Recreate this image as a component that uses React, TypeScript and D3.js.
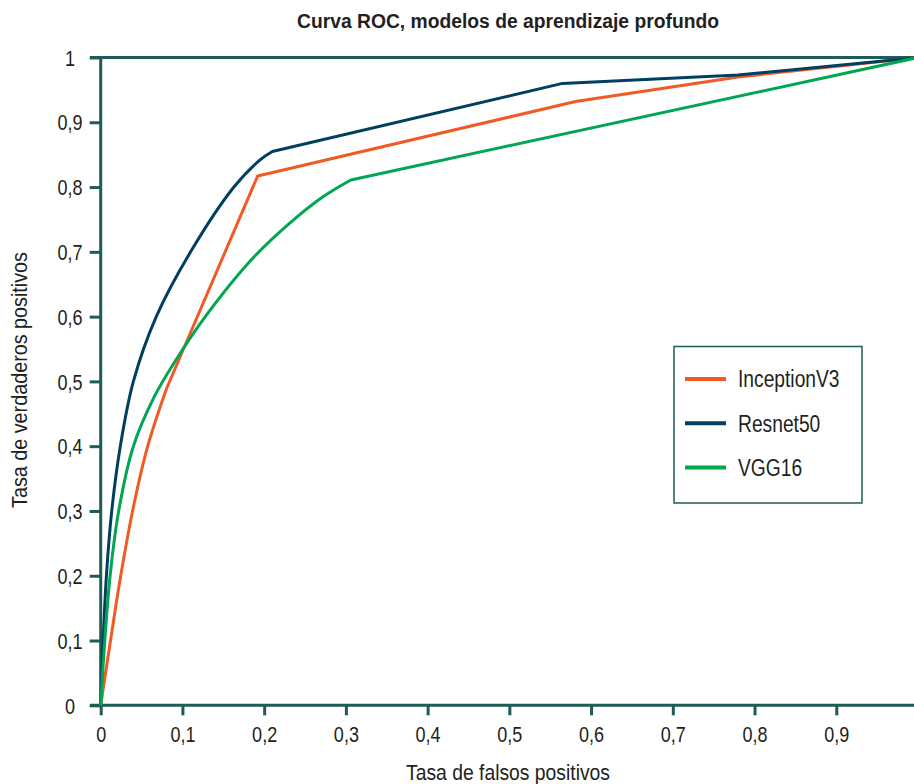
import React, { useEffect, useRef } from 'react';
import * as d3 from 'd3';

// ROC points: [false positive rate, true positive rate]
const inceptionV3: [number, number][] = [
  [0, 0], [0.012, 0.1], [0.0245, 0.2], [0.039, 0.3], [0.0575, 0.4], [0.0806, 0.489],
  [0.192, 0.817], [0.581, 0.932], [0.78, 0.97], [1, 1],
];
const resnet50: [number, number][] = [
  [0, 0], [0.003, 0.1], [0.007, 0.2], [0.0135, 0.3], [0.024, 0.4], [0.04, 0.5],
  [0.068, 0.6], [0.11, 0.7], [0.163, 0.8], [0.195, 0.842], [0.21, 0.855],
  [0.565, 0.96], [0.78, 0.973], [1, 1],
];
const vgg16: [number, number][] = [
  [0, 0], [0.005, 0.1], [0.0115, 0.2], [0.022, 0.3], [0.04, 0.4], [0.065, 0.475],
  [0.092, 0.533], [0.128, 0.6], [0.186, 0.69], [0.231, 0.744], [0.272, 0.785],
  [0.306, 0.811], [1, 1],
];
// index of the last point of the smooth part of each curve, straight after that
const curveEnds = [5, 10, 11];

const seriesNames = ['InceptionV3', 'Resnet50', 'VGG16'];
const seriesColors = ['#f15a24', '#003f5f', '#00a651'];
const ticks = [0, 0.1, 0.2, 0.3, 0.4, 0.5, 0.6, 0.7, 0.8, 0.9, 1];

const title = 'Curva ROC, modelos de aprendizaje profundo';
const xTitle = 'Tasa de falsos positivos';
const yTitle = 'Tasa de verdaderos positivos';

const App = () => {
  const svgRef = useRef<SVGSVGElement>(null);

  useEffect(() => {
    const w = 914;
    const h = 784;
    const axisColor = '#1d5c57';
    const textColor = '#231f20';
    const font = '"Liberation Sans", Arial, sans-serif';
    const narrow = 0.82;

    const svg = d3.select(svgRef.current).attr('width', w).attr('height', h);
    svg.selectAll('*').remove();

    const x = d3.scaleLinear().domain([0, 1]).range([100.7, 918]);
    const y = d3.scaleLinear().domain([0, 1]).range([705.3, 57.5]);
    const fmt = (v: number) => (v === 0 || v === 1 ? String(v) : d3.format('.1f')(v).replace('.', ','));

    svg.append('rect').attr('width', w).attr('height', h).attr('fill', '#fff');

    // title
    svg.append('text')
      .attr('x', 508).attr('y', 28)
      .attr('text-anchor', 'middle')
      .attr('textLength', 422).attr('lengthAdjust', 'spacingAndGlyphs')
      .style('font-family', font).style('font-size', '19.5px').style('font-weight', 'bold')
      .attr('fill', textColor)
      .text(title);

    // x axis
    const xAxis = d3.axisBottom(x).tickValues(ticks).tickFormat((d) => fmt(+d)).tickSize(10).tickSizeOuter(0);
    const gx = svg.append('g').attr('transform', `translate(0,${y(0)})`).call(xAxis);
    gx.select('.domain').remove();
    gx.selectAll('line').attr('stroke', axisColor).attr('stroke-width', 3);
    gx.selectAll('text')
      .attr('y', 36.5).attr('dy', 0)
      .attr('transform', `scale(${narrow},1)`)
      .style('font-family', font).style('font-size', '22px').attr('fill', textColor);
    svg.append('line')
      .attr('x1', 90).attr('x2', w).attr('y1', y(0)).attr('y2', y(0))
      .attr('stroke', axisColor).attr('stroke-width', 3);

    // y axis
    const yAxis = d3.axisLeft(y).tickValues(ticks).tickFormat((d) => fmt(+d)).tickSize(11).tickSizeOuter(0);
    const gy = svg.append('g').attr('transform', `translate(${x(0)},0)`).call(yAxis);
    gy.select('.domain').remove();
    gy.selectAll('line').attr('stroke', axisColor).attr('stroke-width', 3);
    gy.selectAll('text')
      .attr('x', (70 - x(0)) / narrow).attr('text-anchor', 'middle').attr('dy', '0.35em')
      .attr('transform', `scale(${narrow},1)`)
      .style('font-family', font).style('font-size', '22px').attr('fill', textColor);
    svg.append('line')
      .attr('x1', x(0)).attr('x2', x(0)).attr('y1', y(1)).attr('y2', y(0) + 1.5)
      .attr('stroke', axisColor).attr('stroke-width', 3);
    // line at 1
    svg.append('line')
      .attr('x1', 90).attr('x2', w).attr('y1', y(1)).attr('y2', y(1))
      .attr('stroke', axisColor).attr('stroke-width', 3);

    // axis titles
    svg.append('text')
      .attr('x', 508).attr('y', 779.5).attr('text-anchor', 'middle')
      .attr('textLength', 204).attr('lengthAdjust', 'spacingAndGlyphs')
      .style('font-family', font).style('font-size', '22px').attr('fill', textColor)
      .text(xTitle);
    svg.append('text')
      .attr('transform', `translate(27,380) rotate(-90)`).attr('text-anchor', 'middle')
      .attr('textLength', 256).attr('lengthAdjust', 'spacingAndGlyphs')
      .style('font-family', font).style('font-size', '22px').attr('fill', textColor)
      .text(yTitle);

    // curves: smooth part then straight segments
    const smooth = d3.line<[number, number]>()
      .x((d) => x(d[0]))
      .y((d) => y(d[1]))
      .curve(d3.curveCatmullRom.alpha(0.5));
    const straight = d3.line<[number, number]>()
      .x((d) => x(d[0]))
      .y((d) => y(d[1]));
    const series = [inceptionV3, resnet50, vgg16];
    svg.selectAll('.roc')
      .data(series)
      .join('path')
      .attr('class', 'roc')
      .attr('d', (d, i) => {
        const k = curveEnds[i];
        const a = smooth(d.slice(0, k + 1)) || '';
        const b = (straight(d.slice(k)) || '').replace(/^M/, 'L');
        return a + b;
      })
      .attr('fill', 'none')
      .attr('stroke', (d, i) => seriesColors[i])
      .attr('stroke-width', 3)
      .attr('stroke-linejoin', 'round');

    // legend
    const lg = svg.append('g');
    lg.append('rect')
      .attr('x', 674).attr('y', 346.5).attr('width', 188).attr('height', 156.5)
      .attr('fill', '#fff').attr('stroke', axisColor).attr('stroke-width', 1.5);
    seriesNames.forEach((name, i) => {
      const cy = 379 + i * 44.3;
      lg.append('line')
        .attr('x1', 685).attr('x2', 726).attr('y1', cy).attr('y2', cy)
        .attr('stroke', seriesColors[i]).attr('stroke-width', 4);
      lg.append('text')
        .attr('transform', `translate(738,${cy}) scale(${narrow * 1.02},1)`).attr('dy', '0.36em')
        .style('font-family', font).style('font-size', '23px').attr('fill', textColor)
        .text(name);
    });
  }, []);

  return (
    <svg ref={svgRef} style={{ position: 'absolute', left: 0, top: 0, display: 'block' }}></svg>
  );
};

export default App;
